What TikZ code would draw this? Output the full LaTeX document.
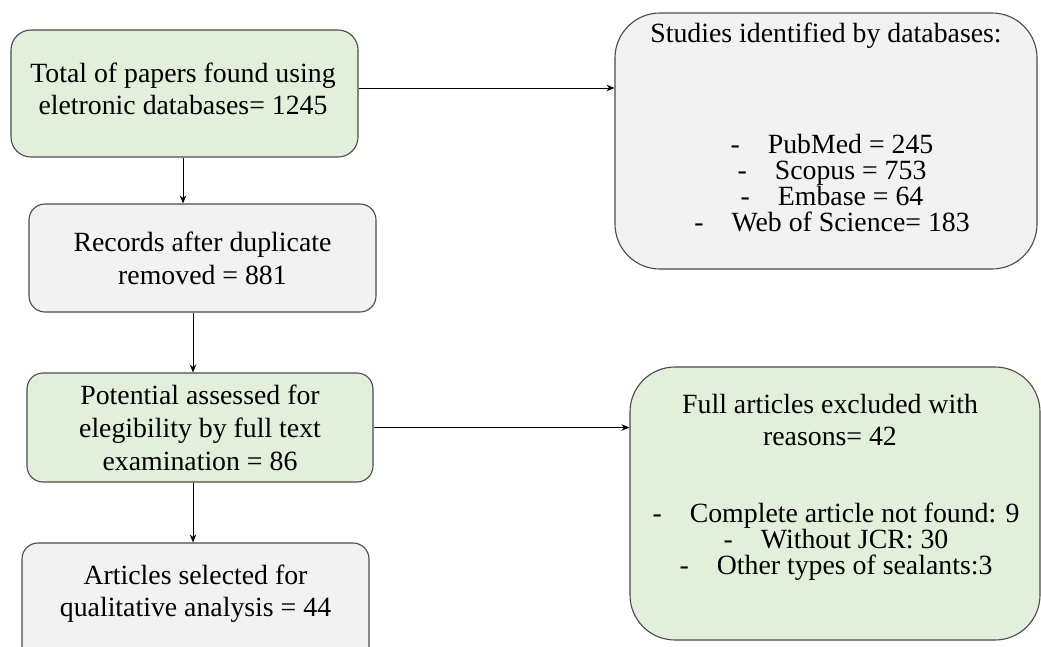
\documentclass[tikz,border=0pt]{standalone}
\usepackage{fontspec}
\setmainfont{Liberation Serif}
\usetikzlibrary{arrows.meta}
\definecolor{boxgreen}{HTML}{E2EFDA}
\definecolor{boxgrey}{HTML}{F2F2F2}
\definecolor{edge}{HTML}{4A4A4A}
\tikzset{
  flowbox/.style={draw=edge, line width=1.1pt, inner sep=0pt, align=center,
    font=\fontsize{27.8}{33}\selectfont},
  greenbox/.style={flowbox, fill=boxgreen},
  greybox/.style={flowbox, fill=boxgrey},
  txt/.style={inner sep=0pt, align=center, font=\fontsize{27.8}{32}\selectfont},
  listtxt/.style={inner sep=0pt, align=center, font=\fontsize{27.8}{26}\selectfont},
  arr/.style={draw=black, line width=0.9pt, -{Stealth[length=8pt,width=6.5pt]}}
}
\begin{document}
\begin{tikzpicture}[x=1pt, y=-1pt]
\useasboundingbox (0,0) rectangle (1041,646);
\fill[white] (0,0) rectangle (1041,646);
\clip (0,0) rectangle (1041,646);

% left column
\node[greenbox, rounded corners=20pt, minimum width=347pt, minimum height=127pt] (b1) at (184.5,93.5) {};
\node[txt] (t1) at (183,89) {Total of papers found using\\eletronic databases= 1245};

\node[greybox, rounded corners=16pt, minimum width=347pt, minimum height=108pt] (b2) at (202.5,258) {Records after duplicate\\removed = 881};

\node[greenbox, rounded corners=16pt, minimum width=346pt, minimum height=109pt] (b3) at (200,427.5) {Potential assessed for\\elegibility by full text\\examination = 86};

\node[greybox, rounded corners=16pt, minimum width=347pt, minimum height=120pt] (b4) at (195.5,603) {};
\node[txt] (t4) at (195.5,594) {Articles selected for\\qualitative analysis = 44};

% right column
\node[greybox, rounded corners=45pt, minimum width=422pt, minimum height=256pt] (b5) at (826,141) {};
\node[txt] (t5a) at (826,36) {Studies identified by databases:};
\node[listtxt] (t5b) at (832,183) {-\hspace{28pt}PubMed = 245\\-\hspace{28pt}Scopus = 753\\-\hspace{28pt}Embase = 64\\-\hspace{28pt}Web of Science= 183};

\node[greenbox, rounded corners=45pt, minimum width=410pt, minimum height=273pt] (b6) at (835,503.5) {};
\node[txt] (t6a) at (830,420) {Full articles excluded with\\reasons= 42};
\node[listtxt] (t6b) at (836,542) {-\hspace{28pt}Complete article not found: 9\\-\hspace{28pt}Without JCR: 30\\-\hspace{28pt}Other types of sealants:3};

% connectors
\draw[arr] ([yshift=5.5pt]b1.east) -- ([yshift=5.5pt]b1.east -| b5.west);
\draw[arr] ([xshift=-1.5pt]b1.south) -- ([xshift=-1.5pt]b1.south |- b2.north);
\draw[arr] ([xshift=-9.5pt]b2.south) -- ([xshift=-9.5pt]b2.south |- b3.north);
\draw[arr] (b3.east) -- (b3.east -| b6.west);
\draw[arr] ([xshift=-7pt]b3.south) -- ([xshift=-7pt]b3.south |- b4.north);
\end{tikzpicture}
\end{document}
